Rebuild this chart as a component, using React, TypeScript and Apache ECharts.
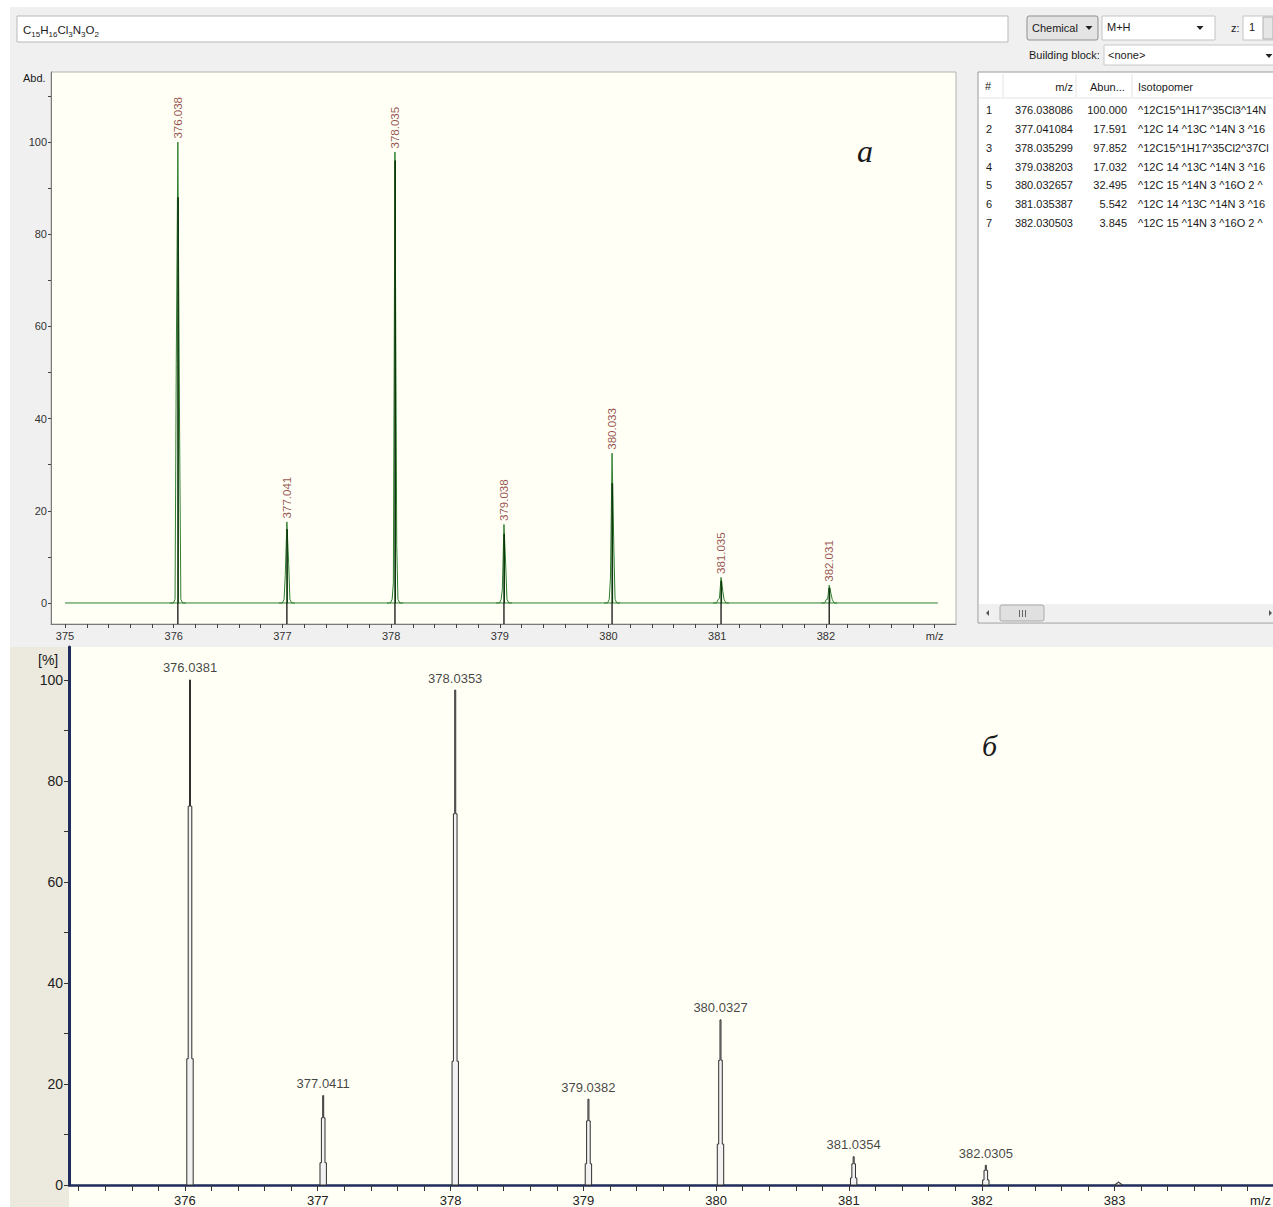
import React, { useEffect, useRef } from "react";
import * as echarts from "echarts";

const FONT = '"Liberation Sans", Arial, sans-serif';
const SERIF = '"Liberation Serif", "DejaVu Serif", serif';

// ---- theoretical isotope table (upper panel) ----
const tableIndex = [1, 2, 3, 4, 5, 6, 7];
const tableMz = [376.038086, 377.041084, 378.035299, 379.038203, 380.032657, 381.035387, 382.030503];
const tableAbundance = [100.0, 17.591, 97.852, 17.032, 32.495, 5.542, 3.845];
const tableIsotopomer = [
  "^12C15^1H17^35Cl3^14N3^16O2",
  "^12C 14 ^13C ^14N 3 ^16O 2 ^1H 17",
  "^12C15^1H17^35Cl2^37Cl^14N3",
  "^12C 14 ^13C ^14N 3 ^16O 2 ^1H 17",
  "^12C 15 ^14N 3 ^16O 2 ^1H 17",
  "^12C 14 ^13C ^14N 3 ^16O 2 ^1H 17",
  "^12C 15 ^14N 3 ^16O 2 ^1H 17",
];

// simulated profile details
const topShoulderLeft = [52, 6, 4.3, 3, 5.4, 1, 0.8];
const topShoulderRight = [35, 8.5, 12.5, 8, 12, 2.5, 2];
const topCore = [88, 16, 96, 15, 26, 4.8, 3.3];
const topBaseline = [
  [375.0, 0],
  [383.03, 0],
];

// ---- measured spectrum (lower panel) ----
const measuredMz = [376.0381, 377.0411, 378.0353, 379.0382, 380.0327, 381.0354, 382.0305, 383.03];
const measuredIntensity = [100, 17.7, 98.0, 17.0, 32.7, 5.6, 3.9, 0.6];
const measuredUpperStep = [75, 13.3, 73.5, 12.7, 24.7, 4.2, 2.9, 0.4];
const measuredLowerStep = [25, 4.4, 24.5, 4.2, 8.1, 1.4, 1.0, 0.2];
const labelledPeaks = 7;

// ---- axes ----
const TOP_X_MIN = 374.871;
const TOP_X_MAX = 383.197;
const TOP_Y_MIN = -4.56;
const TOP_Y_MAX = 115.2;
const topXLabels = [375, 376, 377, 378, 379, 380, 381, 382, 383];
const topYLabels = [0, 20, 40, 60, 80, 100];
const topYTicks = [0, 10, 20, 30, 40, 50, 60, 70, 80, 90, 100, 110];

const BOT_X_MIN = 375.127;
const BOT_X_MAX = 384.193;
const BOT_Y_MIN = 0;
const BOT_Y_MAX = 106.53;
const bottomXLabels = [376, 377, 378, 379, 380, 381, 382, 383];
const bottomYLabels = [0, 20, 40, 60, 80, 100];
const bottomYTicks = [0, 10, 20, 30, 40, 50, 60, 70, 80, 90, 100];

const fifthSteps = (a: number, b: number) => {
  const r: number[] = [];
  for (let i = Math.round(a * 5); i <= Math.round(b * 5); i++) r.push(i / 5);
  return r;
};
const topXTicks = fifthSteps(375, 383);
const bottomXTicks = fifthSteps(375.2, 384);

const GREEN = "#2f7f2f";
const NAVY = "#1f2d5c";

const txt = (x: number, y: number, text: string, o: any = {}) => ({
  type: "text",
  x,
  y,
  z: 30,
  style: {
    text,
    fill: o.fill || "#1a1a1a",
    fontSize: o.size || 11,
    fontFamily: o.family || FONT,
    fontStyle: o.style || "normal",
    textAlign: o.align || "left",
    textVerticalAlign: "middle",
    align: o.align || "left",
    verticalAlign: "middle",
    ...(o.width ? { width: o.width, overflow: "truncate", ellipsis: "" } : {}),
  },
});
const box = (x: number, y: number, w: number, h: number, fill: string, stroke?: string, z = 20, r = 0) => ({
  type: "rect",
  z,
  shape: { x, y, width: w, height: h, r },
  style: { fill, stroke: stroke || "none", lineWidth: 1 },
});
const arrowDown = (cx: number, cy: number) => ({
  type: "polygon",
  z: 31,
  shape: { points: [[cx - 3.5, cy - 2], [cx + 3.5, cy - 2], [cx, cy + 2]] },
  style: { fill: "#222" },
});
const vline = (x: number, y1: number, y2: number, color: string, z = 25) => ({
  type: "line",
  z,
  shape: { x1: x, y1, x2: x, y2 },
  style: { stroke: color, lineWidth: 1 },
});

function buildGraphic() {
  const els: any[] = [];
  // backgrounds
  els.push(box(10, 7, 1263, 640, "#f0f0f0", undefined, -10));
  els.push(box(10, 647, 59, 560, "#ece9df", undefined, -10));
  els.push(box(69, 647, 1204, 560, "#fffff6", undefined, -10));

  // formula input
  els.push(box(17, 16, 991, 26, "#ffffff", "#b9b9b9"));
  els.push({
    type: "text",
    x: 23,
    y: 30,
    z: 30,
    style: {
      text: "{n|C}{s|15}{n|H}{s|16}{n|Cl}{s|3}{n|N}{s|3}{n|O}{s|2}",
      fill: "#1a1a1a",
      verticalAlign: "middle",
      textVerticalAlign: "middle",
      rich: {
        n: { fontSize: 11.5, fontFamily: FONT, fill: "#1a1a1a", lineHeight: 16, verticalAlign: "middle" },
        s: { fontSize: 8, fontFamily: FONT, fill: "#1a1a1a", lineHeight: 16, verticalAlign: "bottom" },
      },
    },
  });

  // Chemical button
  els.push(box(1027, 16, 71, 24, "#e4e4e4", "#8e8f8f", 20, 2));
  els.push(txt(1032, 28, "Chemical"));
  els.push(arrowDown(1089, 28));
  // M+H combo
  els.push(box(1102, 16, 113, 24, "#ffffff", "#c4c4c4"));
  els.push(txt(1107, 27, "M+H"));
  els.push(arrowDown(1200, 28));
  // z spinner
  els.push(txt(1231, 28, "z:"));
  els.push(box(1243, 16, 40, 24, "#ffffff", "#c4c4c4"));
  els.push(txt(1249, 27, "1"));
  els.push(box(1263, 17, 10, 22, "#e6e6e6", "#b0b0b0"));
  // building block
  els.push(txt(1029, 55, "Building block:"));
  els.push(box(1104, 45, 180, 20, "#ffffff", "#c8c8c8"));
  els.push(txt(1108, 55, "<none>"));
  els.push(arrowDown(1269, 56));

  // table
  els.push(box(978, 72, 300, 551, "#ffffff", "#9a9a9a"));
  els.push({
    type: "line",
    z: 25,
    shape: { x1: 979, y1: 98, x2: 1273, y2: 98 },
    style: { stroke: "#e3e3e3", lineWidth: 1 },
  });
  els.push(vline(1003, 74, 97, "#e3e3e3"));
  els.push(vline(1076, 74, 97, "#e3e3e3"));
  els.push(vline(1132, 74, 97, "#e3e3e3"));
  els.push(txt(985, 86, "#"));
  els.push(txt(1073, 87, "m/z", { align: "right" }));
  els.push(txt(1090, 87, "Abun..."));
  els.push(txt(1138, 87, "Isotopomer"));
  tableIndex.forEach((n, i) => {
    const y = 110 + i * 18.85;
    els.push(txt(986, y, String(n)));
    els.push(txt(1073, y, tableMz[i].toFixed(6), { align: "right" }));
    els.push(txt(1127, y, tableAbundance[i].toFixed(3), { align: "right" }));
    els.push(txt(1138, y, tableIsotopomer[i], { width: 134 }));
  });
  // scrollbar
  els.push(box(979, 604, 294, 18, "#f0f0f0"));
  els.push({
    type: "polygon",
    z: 31,
    shape: { points: [[986, 613], [989, 610], [989, 616]] },
    style: { fill: "#555" },
  });
  els.push(box(1000, 605, 44, 16, "#e0e0e0", "#a9a9a9", 26, 2));
  els.push(vline(1019.5, 610, 617, "#666", 32));
  els.push(vline(1022.5, 610, 617, "#666", 32));
  els.push(vline(1025.5, 610, 617, "#666", 32));
  els.push({
    type: "polygon",
    z: 31,
    shape: { points: [[1272, 613], [1269, 610], [1269, 616]] },
    style: { fill: "#555" },
  });

  // axis captions and panel letters
  els.push(txt(23, 78, "Abd.", { size: 11 }));
  els.push(txt(38, 660, "[%]", { size: 14 }));
  els.push(txt(1271, 1200, "m/z", { size: 13, align: "right" }));
  els.push(txt(857, 151, "a", { size: 32, family: SERIF, style: "italic" }));
  els.push(txt(982, 745, "б", { size: 30, family: SERIF, style: "italic" }));
  return els;
}

const renderTop = (params: any, api: any) => {
  const mz = api.value(0);
  const top = api.value(1);
  const [cx, y0] = api.coord([mz, 0]);
  const yTop = api.coord([mz, top])[1];
  const yL = api.coord([mz, api.value(2)])[1];
  const yR = api.coord([mz, api.value(3)])[1];
  const yC = api.coord([mz, api.value(4)])[1];
  const yMin = api.coord([mz, TOP_Y_MIN])[1];
  const yFoot = api.coord([mz, 0.8])[1];
  return {
    type: "group",
    children: [
      { type: "line", shape: { x1: cx, y1: yMin, x2: cx, y2: y0 }, style: { stroke: "#111111", lineWidth: 1.3 } },
      {
        type: "polyline",
        shape: {
          points: [
            [cx - 8, y0],
            [cx - 4.5, y0],
            [cx - 2.8, yFoot],
            [cx - 1.6, yL],
            [cx, yTop],
            [cx + 1.8, yR],
            [cx + 3, yFoot],
            [cx + 4.8, y0],
            [cx + 8, y0],
          ],
        },
        style: { stroke: GREEN, fill: "none", lineWidth: 1 },
      },
      { type: "line", shape: { x1: cx + 0.2, y1: y0, x2: cx + 0.2, y2: yC }, style: { stroke: "#0d380d", lineWidth: 1.7 } },
    ],
  };
};

const renderBottom = (params: any, api: any) => {
  const mz = api.value(0);
  const [cx, y0] = api.coord([mz, 0]);
  const yTop = api.coord([mz, api.value(1)])[1];
  const yU = api.coord([mz, api.value(2)])[1];
  const yLo = api.coord([mz, api.value(3)])[1];
  return {
    type: "polygon",
    shape: {
      points: [
        [cx - 3.2, y0],
        [cx - 3.2, yLo],
        [cx - 1.8, yLo],
        [cx - 1.8, yU],
        [cx - 0.5, yU],
        [cx - 0.5, yTop],
        [cx + 0.5, yTop],
        [cx + 0.5, yU],
        [cx + 1.8, yU],
        [cx + 1.8, yLo],
        [cx + 3.2, yLo],
        [cx + 3.2, y0],
      ],
    },
    style: { fill: "#f2f2f2", stroke: "#2e2e2e", lineWidth: 1 },
  };
};

function buildOption() {
  const topPeakData = tableMz.map((m, i) => [m, tableAbundance[i], topShoulderLeft[i], topShoulderRight[i], topCore[i]]);
  const topLabelData = tableMz.map((m, i) => [m, tableAbundance[i]]);
  const bottomPeakData = measuredMz.map((m, i) => [m, measuredIntensity[i], measuredUpperStep[i], measuredLowerStep[i]]);
  const bottomLabelData = measuredMz.slice(0, labelledPeaks).map((m, i) => [m, measuredIntensity[i]]);

  return {
    animation: false,
    backgroundColor: "#ffffff",
    graphic: { elements: buildGraphic() },
    grid: [
      {
        left: 51,
        top: 72,
        width: 905,
        height: 552,
        show: true,
        backgroundColor: "#fffff5",
        borderColor: "#b4b4b4",
        borderWidth: 1,
      },
      { left: 69, top: 647, width: 1204, height: 538, show: false },
    ],
    xAxis: [
      {
        type: "value",
        gridIndex: 0,
        min: TOP_X_MIN,
        max: TOP_X_MAX,
        axisLine: { show: true, onZero: false, lineStyle: { color: "#7a7a7a", width: 1 } },
        axisTick: { show: true, customValues: topXTicks, length: 4, lineStyle: { color: "#444" } },
        axisLabel: {
          customValues: topXLabels,
          formatter: (v: number) => (v === 383 ? "m/z" : String(v)),
          fontSize: 11,
          fontFamily: FONT,
          color: "#333",
          margin: 6,
        },
        splitLine: { show: false },
      },
      {
        type: "value",
        gridIndex: 1,
        min: BOT_X_MIN,
        max: BOT_X_MAX,
        axisLine: { show: true, onZero: false, lineStyle: { color: NAVY, width: 2.5 } },
        axisTick: { show: true, customValues: bottomXTicks, length: 6, lineStyle: { color: "#333" } },
        axisLabel: {
          customValues: bottomXLabels,
          formatter: (v: number) => String(v),
          fontSize: 13,
          fontFamily: FONT,
          color: "#222",
          margin: 9,
        },
        splitLine: { show: false },
      },
    ],
    yAxis: [
      {
        type: "value",
        gridIndex: 0,
        min: TOP_Y_MIN,
        max: TOP_Y_MAX,
        axisLine: { show: true, onZero: false, lineStyle: { color: "#7a7a7a", width: 1 } },
        axisTick: { show: true, customValues: topYTicks, length: 3, lineStyle: { color: "#444" } },
        axisLabel: {
          customValues: topYLabels,
          formatter: (v: number) => String(v),
          fontSize: 11,
          fontFamily: FONT,
          color: "#333",
          margin: 4,
        },
        splitLine: { show: false },
      },
      {
        type: "value",
        gridIndex: 1,
        min: BOT_Y_MIN,
        max: BOT_Y_MAX,
        axisLine: { show: true, onZero: false, lineStyle: { color: NAVY, width: 3 } },
        axisTick: { show: true, customValues: bottomYTicks, length: 5, lineStyle: { color: "#333" } },
        axisLabel: {
          customValues: bottomYLabels,
          formatter: (v: number) => String(v),
          fontSize: 14,
          fontFamily: FONT,
          color: "#222",
          margin: 6,
        },
        splitLine: { show: false },
      },
    ],
    series: [
      {
        type: "line",
        xAxisIndex: 0,
        yAxisIndex: 0,
        data: topBaseline,
        symbol: "none",
        silent: true,
        lineStyle: { color: GREEN, width: 1 },
        z: 2,
      },
      {
        type: "custom",
        xAxisIndex: 0,
        yAxisIndex: 0,
        data: topPeakData,
        encode: { x: 0, y: 1 },
        renderItem: renderTop,
        silent: true,
        z: 3,
      },
      {
        type: "scatter",
        xAxisIndex: 0,
        yAxisIndex: 0,
        data: topLabelData,
        symbolSize: 1,
        silent: true,
        itemStyle: { color: "rgba(0,0,0,0)" },
        label: {
          show: true,
          position: "top",
          distance: 3,
          rotate: 90,
          align: "left",
          verticalAlign: "middle",
          fontSize: 11.5,
          fontFamily: FONT,
          color: "#7e1f1f",
          formatter: (p: any) => p.value[0].toFixed(3),
        },
        z: 4,
      },
      {
        type: "custom",
        xAxisIndex: 1,
        yAxisIndex: 1,
        data: bottomPeakData,
        encode: { x: 0, y: 1 },
        renderItem: renderBottom,
        silent: true,
        z: 3,
      },
      {
        type: "scatter",
        xAxisIndex: 1,
        yAxisIndex: 1,
        data: bottomLabelData,
        symbolSize: 1,
        silent: true,
        itemStyle: { color: "rgba(0,0,0,0)" },
        label: {
          show: true,
          position: "top",
          distance: 5,
          fontSize: 13,
          fontFamily: FONT,
          color: "#111",
          formatter: (p: any) => p.value[0].toFixed(4),
        },
        z: 4,
      },
    ],
  };
}

export default function App() {
  const ref = useRef<HTMLDivElement>(null);
  useEffect(() => {
    if (!ref.current) return;
    const chart = echarts.init(ref.current, null, { renderer: "svg" });
    chart.setOption(buildOption() as any);
    return () => chart.dispose();
  }, []);
  return (
    <div
      ref={ref}
      style={{ position: "absolute", left: 0, top: 0, width: 1273, height: 1207 }}
    />
  );
}
